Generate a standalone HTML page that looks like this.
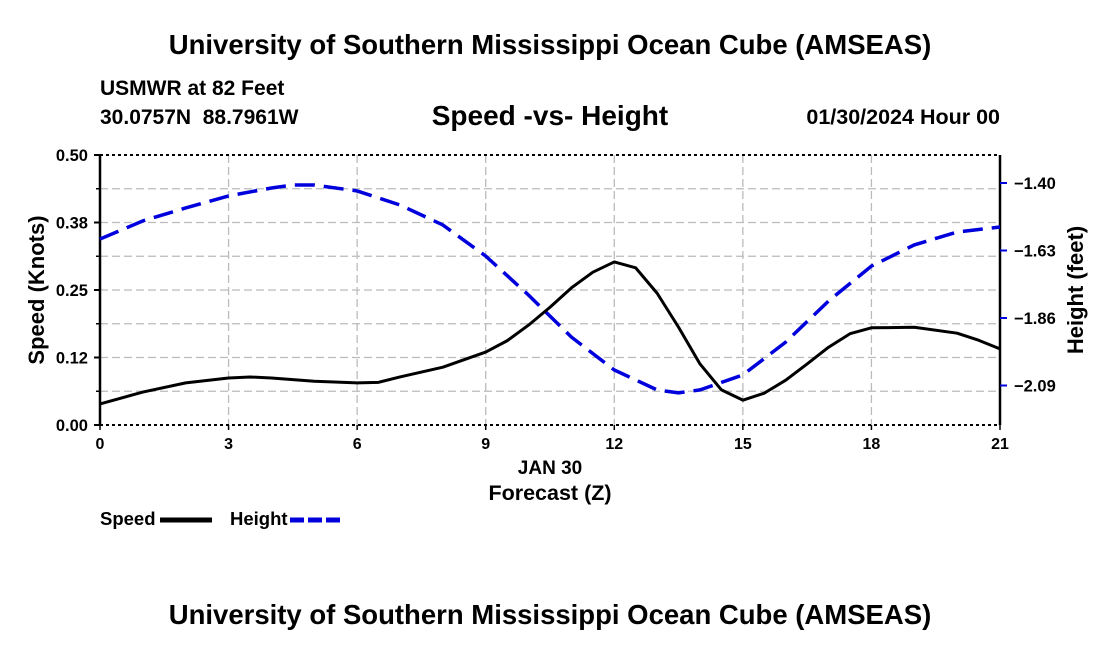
<!DOCTYPE html>
<html><head><meta charset="utf-8"><style>
body{margin:0;background:#fff;}
svg text{font-family:"Liberation Sans",Arial,sans-serif;font-weight:bold;fill:#000;}
</style></head><body>
<svg id="chart" width="1100" height="650" xmlns="http://www.w3.org/2000/svg">
<text x="550" y="54" font-size="27.5" text-anchor="middle">University of Southern Mississippi Ocean Cube (AMSEAS)</text>
<text x="100" y="95" font-size="21">USMWR at 82 Feet</text>
<text x="100" y="124" font-size="21" xml:space="preserve">30.0757N  88.7961W</text>
<text x="550" y="125" font-size="28" text-anchor="middle">Speed -vs- Height</text>
<text x="1000" y="124" font-size="21.5" text-anchor="end">01/30/2024 Hour 00</text>
<g id="grid"></g>
<g id="axes"></g>
<g id="series"></g>
<text x="550" y="474" font-size="19" text-anchor="middle">JAN 30</text>
<text x="550" y="500" font-size="21.5" text-anchor="middle">Forecast (Z)</text>
<text transform="translate(44,290) rotate(-90)" font-size="22" text-anchor="middle">Speed (Knots)</text>
<text transform="translate(1083,290) rotate(-90)" font-size="22" text-anchor="middle">Height (feet)</text>
<g>
<text x="100" y="525" font-size="18.5">Speed</text>
<line x1="160" y1="520" x2="212" y2="520" stroke="#000" stroke-width="5"/>
<text x="230" y="525" font-size="18.5">Height</text>
<line x1="290" y1="520" x2="342" y2="520" stroke="#0000dd" stroke-width="5" stroke-dasharray="14,4"/>
</g>
<text x="550" y="624" font-size="27.5" text-anchor="middle">University of Southern Mississippi Ocean Cube (AMSEAS)</text>
</svg>
<script>
const speedHours=[0,1,2,3,3.5,4,5,6,6.5,7,8,9,9.5,10,10.5,11,11.5,12,12.5,13,13.5,14,14.5,15,15.5,16,16.5,17,17.5,18,19,20,20.5,21];
const speedValues=[0.039,0.061,0.078,0.087,0.089,0.087,0.081,0.078,0.079,0.089,0.107,0.135,0.156,0.185,0.218,0.254,0.283,0.302,0.291,0.244,0.181,0.113,0.065,0.046,0.059,0.083,0.113,0.144,0.169,0.180,0.181,0.170,0.157,0.141];
const heightHours=[0,1,2,3,4,4.5,5,6,7,8,9,10,11,12,13,13.5,14,15,16,17,18,19,20,21];
const heightValues=[-1.591,-1.529,-1.485,-1.444,-1.417,-1.407,-1.407,-1.427,-1.475,-1.543,-1.649,-1.782,-1.925,-2.037,-2.105,-2.115,-2.105,-2.054,-1.942,-1.802,-1.683,-1.611,-1.567,-1.550];
const xTicks=[0,3,6,9,12,15,18,21];
const leftTicks=[0,0.125,0.25,0.375,0.5];
const leftTickLabels=["0.00","0.12","0.25","0.38","0.50"];
const rightTicks=[-1.40,-1.63,-1.86,-2.09];
const rightTickLabels=["\u22121.40","\u22121.63","\u22121.86","\u22122.09"];
const X0=100,X1=1000,Y0=425,Y1=155;
const xs=h=>X0+(h/21)*(X1-X0);
const ysL=v=>Y0-(v/0.5)*(Y0-Y1);
const ysR=v=>183+(-1.40-v)*293.5;
const NS="http://www.w3.org/2000/svg";
function mk(tag,attrs,parent){const e=document.createElementNS(NS,tag);for(const k in attrs)e.setAttribute(k,attrs[k]);parent.appendChild(e);return e;}
const grid=document.getElementById('grid'),axes=document.getElementById('axes'),series=document.getElementById('series');
for(let v=0.0625;v<0.5;v+=0.0625){const l=mk('line',{x1:X0,x2:X1,y1:ysL(v),y2:ysL(v),stroke:'#bbb','stroke-width':1.3,'stroke-dasharray':'8,4'},grid);

}
xTicks.slice(1,-1).forEach(t=>{const l=mk('line',{x1:xs(t),x2:xs(t),y1:Y1,y2:Y0,stroke:'#bbb','stroke-width':1.3,'stroke-dasharray':'8,4'},grid);

});
[Y1,Y0].forEach(y=>{const l=mk('line',{x1:X0,x2:X1,y1:y,y2:y,stroke:'#000','stroke-width':2,'stroke-dasharray':'3,3'},axes);

});
const la=mk('line',{x1:X0,x2:X0,y1:Y1,y2:Y0,stroke:'#000','stroke-width':2.5},axes);


const ra=mk('line',{x1:X1,x2:X1,y1:Y1,y2:Y0,stroke:'#000','stroke-width':2.5},axes);


leftTicks.forEach((v,i)=>{mk('line',{x1:X0-6,x2:X0,y1:ysL(v),y2:ysL(v),stroke:'#000','stroke-width':2},axes);
const t=mk('text',{x:X0-12,y:ysL(v)+6,'font-size':16.5,'text-anchor':'end'},axes);t.textContent=leftTickLabels[i];

});
for(let v=0.0625;v<0.5;v+=0.125){mk('line',{x1:X0-4,x2:X0,y1:ysL(v),y2:ysL(v),stroke:'#000','stroke-width':1.5},axes);}
rightTicks.forEach((v,i)=>{mk('line',{x1:X1,x2:X1+7,y1:ysR(v),y2:ysR(v),stroke:'#0000dd','stroke-width':2},axes);
const t=mk('text',{x:X1+14,y:ysR(v)+6,'font-size':16.5},axes);t.textContent=rightTickLabels[i];

});
xTicks.forEach(h=>{mk('line',{x1:xs(h),x2:xs(h),y1:Y0,y2:Y0+5,stroke:'#000','stroke-width':1.5},axes);
const t=mk('text',{x:xs(h),y:Y0+24,'font-size':16,'text-anchor':'middle'},axes);t.textContent=h;

});
const hp=mk('polyline',{points:heightHours.map((h,i)=>xs(h)+','+ysR(heightValues[i])).join(' '),fill:'none',stroke:'#0000dd','stroke-width':3.5,'stroke-dasharray':'20,9'},series);


const sp=mk('polyline',{points:speedHours.map((h,i)=>xs(h)+','+ysL(speedValues[i])).join(' '),fill:'none',stroke:'#000','stroke-width':3,'stroke-linejoin':'round'},series);


</script>
</body></html>
